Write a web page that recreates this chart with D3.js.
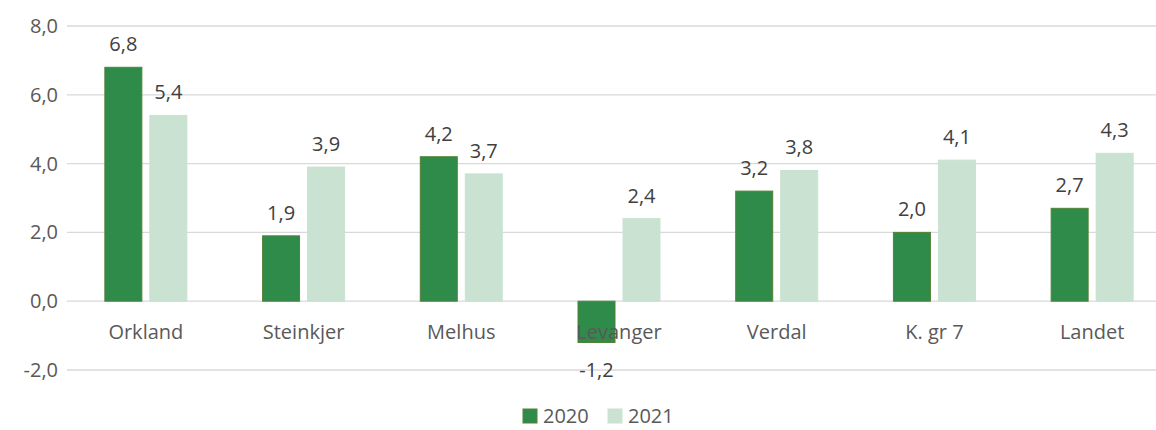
<!DOCTYPE html>
<html>
<head>
<meta charset="utf-8">
<script src="https://cdn.jsdelivr.net/npm/d3@7"></script>
<style>
  body { margin: 0; background: #fff; overflow: hidden; }
  text { font-family: "Open Sans", "Liberation Sans", sans-serif; fill: #595959; }
</style>
</head>
<body>
<div id="vis"></div>
<script>
const WIDTH = 1156;
const HEIGHT = 430;
// plot area runs slightly past the right edge, as in the reference
const MARGIN = {left: 67, right: -15, top: 26, bottom: 60};

const categories = ["Orkland", "Steinkjer", "Melhus", "Levanger", "Verdal", "K. gr 7", "Landet"];
const series = ["2020", "2021"];
const values2020 = [6.8, 1.9, 4.2, -1.2, 3.2, 2.0, 2.7];
const values2021 = [5.4, 3.9, 3.7, 2.4, 3.8, 4.1, 4.3];
const yTicks = [-2, 0, 2, 4, 6, 8];

const COLORS = {"2020": "#2e8b4a", "2021": "#c9e2d1"};
const STROKES = {"2020": "#548235", "2021": "#c9e2d1"};

const rows = categories.map((c, i) => ({cat: c, vals: [
  {s: "2020", v: values2020[i]},
  {s: "2021", v: values2021[i]}
]}));

const fmt = (d) => d.toFixed(1).replace(".", ",");

const svg = d3.select("#vis")
  .append("svg")
    .attr("width", WIDTH)
    .attr("height", HEIGHT);

const X0 = d3.scaleBand()
  .domain(categories)
  .range([MARGIN.left, WIDTH - MARGIN.right]);

const X1 = d3.scaleBand()
  .domain(series)
  .range([X0.bandwidth() / 2 - 41, X0.bandwidth() / 2 + 41])
  .paddingInner(8 / 45);

const Y = d3.scaleLinear()
  .domain([-2, 8])
  .range([HEIGHT - MARGIN.bottom, MARGIN.top]);

// gridlines
svg.append("g")
  .selectAll("line")
  .data(yTicks)
  .enter()
  .append("line")
    .attr("x1", MARGIN.left)
    .attr("x2", WIDTH)
    .attr("y1", d => Y(d))
    .attr("y2", d => Y(d))
    .attr("stroke", "#d9d9d9")
    .attr("stroke-width", 1.3);

// y tick labels
svg.append("g")
  .selectAll("text")
  .data(yTicks)
  .enter()
  .append("text")
    .attr("x", 58)
    .attr("y", d => Y(d))
    .attr("dy", "0.35em")
    .attr("text-anchor", "end")
    .attr("font-size", "20px")
    .text(d => fmt(d));

const groups = svg.append("g")
  .selectAll("g")
  .data(rows)
  .enter()
  .append("g")
    .attr("transform", d => "translate(" + X0(d.cat) + ",0)");

groups.selectAll("rect")
  .data(d => d.vals)
  .enter()
  .append("rect")
    .attr("x", d => X1(d.s))
    .attr("width", X1.bandwidth())
    .attr("y", d => Y(Math.max(0, d.v)))
    .attr("height", d => Math.abs(Y(d.v) - Y(0)))
    .attr("fill", d => COLORS[d.s])
    .attr("stroke", d => STROKES[d.s])
    .attr("stroke-width", 1);

groups.selectAll("text.lbl")
  .data(d => d.vals)
  .enter()
  .append("text")
    .attr("class", "lbl")
    .attr("x", d => X1(d.s) + X1.bandwidth() / 2)
    .attr("y", d => d.v >= 0 ? Y(d.v) - 16 : Y(d.v) + 35)
    .attr("text-anchor", "middle")
    .attr("font-size", "20px")
    .style("fill", "#404040")
    .text(d => fmt(d.v));

// category labels (drawn over bars)
svg.append("g")
  .selectAll("text")
  .data(categories)
  .enter()
  .append("text")
    .attr("x", d => X0(d) + X0.bandwidth() / 2)
    .attr("y", Y(0) + 38)
    .attr("text-anchor", "middle")
    .attr("font-size", "20px")
    .text(d => d);

// legend
const legend = svg.append("g")
  .attr("transform", "translate(523,409)");

const legItems = legend.selectAll("g")
  .data(series)
  .enter()
  .append("g")
    .attr("transform", (d, i) => "translate(" + (i * 85) + ",0)");

legItems.append("rect")
  .attr("width", 14)
  .attr("height", 14)
  .attr("fill", d => COLORS[d])
  .attr("stroke", d => STROKES[d]);

legItems.append("text")
  .attr("x", 20)
  .attr("y", 7)
  .attr("dy", "0.33em")
  .attr("font-size", "20px")
  .text(d => d);
</script>
</body>
</html>
